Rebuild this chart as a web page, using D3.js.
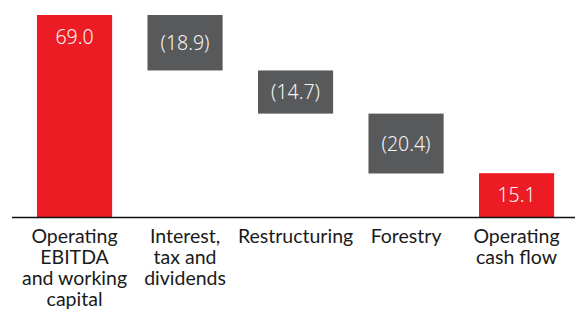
<!DOCTYPE html>
<html>
<head>
<meta charset="utf-8">
<script src="https://cdn.jsdelivr.net/npm/d3@7"></script>
<style>
  body { margin: 0; background: #fff; }
  svg { display: block; font-family: Lato, "Noto Sans", sans-serif; }
  .val { font-family: "Noto Sans", Lato, sans-serif; font-stretch: condensed; font-weight: 300; }
</style>
</head>
<body>
<svg id="chart" width="575" height="314"></svg>
<script>
// Waterfall data
const categories = [
  ['Operating', 'EBITDA', 'and working', 'capital'],
  ['Interest,', 'tax and', 'dividends'],
  ['Restructuring'],
  ['Forestry'],
  ['Operating', 'cash flow'],
];
const values = [69.0, -18.9, -14.7, -20.4, 15.1];
const totals = [true, false, false, false, true];
const valueLabels = ['69.0', '(18.9)', '(14.7)', '(20.4)', '15.1'];

const RED = '#ed1c24';
const GREY = '#58595b';

const svg = d3.select('#chart');
const baseY = 217.5;

// Build floating segments
let running = 0;
const bars = values.map((v, i) => {
  let start, end;
  if (totals[i]) { start = 0; end = v; running = v; }
  else { start = running; end = running + v; running = end; }
  return { i, v, lo: Math.min(start, end), hi: Math.max(start, end), total: totals[i], label: valueLabels[i] };
});

const x = d3.scaleBand()
  .domain(d3.range(values.length))
  .range([19.3, 571.8])
  .paddingInner(0.32)
  .paddingOuter(0.16);

const y = d3.scaleLinear()
  .domain([0, 69.0])
  .range([baseY, 15]);

const g = svg.append('g');

g.selectAll('.bar')
  .data(bars)
  .enter().append('rect')
    .attr('class', 'bar')
    .attr('x', (d) => x(d.i))
    .attr('width', x.bandwidth())
    .attr('y', (d) => y(d.hi))
    .attr('height', (d) => y(d.lo) - y(d.hi))
    .attr('fill', (d) => d.total ? RED : GREY);

g.selectAll('.val')
  .data(bars)
  .enter().append('text')
    .attr('class', 'val')
    .attr('x', (d) => x(d.i) + x.bandwidth() / 2)
    .attr('y', (d) => {
      const h = y(d.lo) - y(d.hi);
      // tall bars get their label near the top
      return h > 100 ? y(d.hi) + 29 : y(d.hi) + h / 2 + 7;
    })
    .attr('text-anchor', 'middle')
    .attr('fill', '#f4f4f4')
    .attr('font-size', 19.5)
    .text((d) => d.label);

// baseline
svg.append('line')
  .attr('x1', 12).attr('x2', 575)
  .attr('y1', baseY).attr('y2', baseY)
  .attr('stroke', '#111')
  .attr('stroke-width', 1.5);

// category labels
const lbl = svg.selectAll('.cat')
  .data(categories)
  .enter().append('text')
    .attr('class', 'cat')
    .attr('text-anchor', 'middle')
    .attr('fill', '#1a1a1a')
    .attr('font-size', 19.5);

lbl.selectAll('tspan')
  .data((d, i) => d.map((t) => ({ t, i })))
  .enter().append('tspan')
    .attr('x', (d) => x(d.i) + x.bandwidth() / 2)
    .attr('y', (d, j) => 243 + j * 21)
    .text((d) => d.t);
</script>
</body>
</html>
